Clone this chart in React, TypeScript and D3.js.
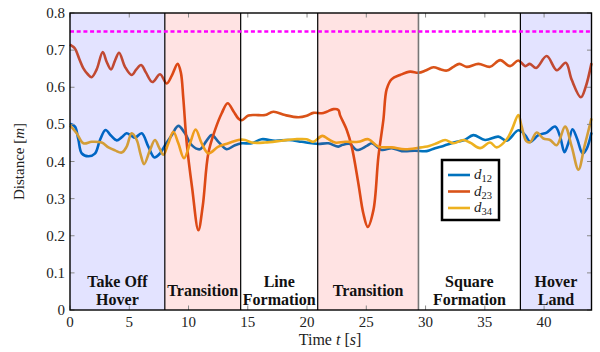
import React from "react";
import * as d3 from "d3";

// Inter-drone distances over the flight, sampled in seconds
const t12 = [0, 0.42, 0.7, 0.99, 1.55, 2.1, 2.53, 3.0, 3.45, 3.94, 4.35, 4.78, 5.15, 5.49, 6.05, 6.61, 7.12, 7.6, 8.02, 8.58, 9.14, 9.7, 10.27, 10.97, 11.5, 11.96, 12.52, 13.22, 13.92, 14.49, 15.33, 16.17, 17.3, 18.42, 19.55, 20.4, 20.95, 21.8, 22.64, 23.0, 23.63, 24.19, 25.04, 25.46, 26.3, 27.15, 27.99, 29.1, 30.1, 30.8, 31.5, 32.63, 33.3, 34.03, 35.02, 36.14, 36.85, 37.83, 38.4, 38.82, 39.52, 40.22, 40.93, 41.35, 41.72, 42.05, 42.4, 42.8, 43.25, 43.6, 44];
const d12 = [0.502, 0.494, 0.46, 0.422, 0.414, 0.421, 0.458, 0.485, 0.47, 0.457, 0.465, 0.476, 0.47, 0.464, 0.476, 0.44, 0.411, 0.422, 0.444, 0.471, 0.496, 0.476, 0.444, 0.433, 0.455, 0.471, 0.453, 0.433, 0.444, 0.449, 0.449, 0.46, 0.456, 0.458, 0.453, 0.449, 0.447, 0.449, 0.44, 0.445, 0.447, 0.431, 0.442, 0.449, 0.431, 0.436, 0.428, 0.429, 0.428, 0.436, 0.442, 0.453, 0.458, 0.471, 0.458, 0.467, 0.456, 0.484, 0.471, 0.453, 0.471, 0.478, 0.494, 0.467, 0.425, 0.45, 0.487, 0.46, 0.422, 0.435, 0.478];

const t23 = [0, 0.4, 0.8, 1.13, 1.5, 1.83, 2.25, 2.76, 3.1, 3.46, 3.8, 4.14, 4.64, 5.2, 5.6, 6.0, 6.4, 6.95, 7.6, 8.16, 8.6, 9.08, 9.35, 9.56, 9.85, 10.3, 10.83, 11.2, 11.67, 12.24, 12.8, 13.3, 13.8, 14.2, 14.5, 15.05, 15.9, 16.45, 17.16, 18.14, 19.27, 19.97, 20.53, 21.24, 21.66, 22.22, 22.64, 22.78, 23.35, 23.77, 24.33, 24.75, 25.12, 25.6, 26.02, 26.44, 26.72, 27.15, 27.85, 28.7, 29.4, 30.0, 30.66, 31.3, 31.8, 32.35, 32.85, 33.47, 34.46, 35.44, 36.29, 37.13, 37.83, 38.4, 38.8, 39.33, 40.22, 41.07, 41.83, 42.33, 43.1, 43.5, 44];
const d23 = [0.715, 0.705, 0.675, 0.651, 0.635, 0.627, 0.648, 0.695, 0.668, 0.648, 0.672, 0.693, 0.655, 0.633, 0.648, 0.66, 0.64, 0.614, 0.635, 0.61, 0.632, 0.663, 0.64, 0.57, 0.449, 0.33, 0.215, 0.28, 0.422, 0.485, 0.53, 0.557, 0.535, 0.516, 0.511, 0.524, 0.525, 0.525, 0.534, 0.525, 0.519, 0.523, 0.531, 0.53, 0.534, 0.541, 0.539, 0.525, 0.485, 0.44, 0.341, 0.26, 0.224, 0.269, 0.413, 0.512, 0.595, 0.622, 0.633, 0.642, 0.639, 0.645, 0.654, 0.648, 0.645, 0.655, 0.663, 0.655, 0.663, 0.655, 0.673, 0.657, 0.672, 0.657, 0.663, 0.652, 0.684, 0.646, 0.666, 0.62, 0.573, 0.6, 0.665];

const t34 = [0, 0.56, 1.13, 1.83, 2.67, 3.24, 3.8, 4.36, 4.78, 5.2, 5.63, 5.95, 6.25, 6.75, 7.17, 7.54, 7.88, 8.3, 8.72, 9.14, 9.62, 10.13, 10.6, 11.11, 11.67, 12.52, 13.36, 14.2, 14.77, 15.33, 16.45, 17.86, 18.99, 19.97, 20.53, 21.29, 21.8, 22.36, 23.21, 24.33, 25.17, 26.02, 27.15, 28.27, 29.4, 30.3, 30.94, 31.65, 32.35, 33.19, 33.8, 34.6, 35.44, 36.0, 36.85, 37.27, 37.83, 38.1, 38.5, 38.82, 39.38, 39.94, 40.5, 41.07, 41.77, 42.33, 42.9, 43.4, 44];
const d34 = [0.497, 0.476, 0.449, 0.453, 0.451, 0.438, 0.43, 0.424, 0.44, 0.476, 0.458, 0.42, 0.393, 0.431, 0.458, 0.436, 0.418, 0.449, 0.48, 0.449, 0.409, 0.449, 0.486, 0.449, 0.422, 0.44, 0.449, 0.458, 0.458, 0.451, 0.451, 0.456, 0.46, 0.46, 0.453, 0.469, 0.46, 0.451, 0.453, 0.453, 0.46, 0.44, 0.438, 0.433, 0.437, 0.442, 0.449, 0.458, 0.449, 0.458, 0.45, 0.436, 0.451, 0.438, 0.46, 0.485, 0.525, 0.495, 0.455, 0.452, 0.478, 0.462, 0.458, 0.444, 0.494, 0.44, 0.378, 0.44, 0.516];

// Flight phases
const phaseBounds = [0, 8, 14.4, 20.9, 29.4, 38, 44];
const phaseKinds = ["hover", "transition", "formation", "transition", "formation", "hover"];
const phaseLabels = [["Take Off", "Hover"], ["Transition"], ["Line", "Formation"], ["Transition"], ["Square", "Formation"], ["Hover", "Land"]];

const safetyLimit = 0.75;
const xTicks = [0, 5, 10, 15, 20, 25, 30, 35, 40];
const yTicks = [0, 0.1, 0.2, 0.3, 0.4, 0.5, 0.6, 0.7, 0.8];
const seriesNames = ["12", "23", "34"];

const colors = ["#0072BD", "#D95319", "#EDB120"];
const phaseFill: Record<string, string> = {
  hover: "rgba(0,0,255,0.11)",
  transition: "rgba(255,0,0,0.11)",
  formation: "none",
};

const W = 600;
const H = 352;
const serif = "'Liberation Serif', 'Times New Roman', serif";

export default function App() {
  const x = d3.scaleLinear().domain([0, 44]).range([70, 591.5]);
  const y = d3.scaleLinear().domain([0, 0.8]).range([310, 13]);
  const [x0, x1] = x.range();
  const [y0, y1] = y.range();

  const line = d3
    .line<[number, number]>()
    .x((d) => x(d[0]))
    .y((d) => y(d[1]))
    .curve(d3.curveCatmullRom.alpha(0.5));

  const series = [
    { t: t12, v: d12 },
    { t: t23, v: d23 },
    { t: t34, v: d34 },
  ];

  return (
    <svg
      width={W}
      height={H}
      style={{ position: "absolute", left: 0, top: 0, background: "#fff" }}
      fontFamily={serif}
    >
      {/* distance curves */}
      {series.map((s, i) => (
        <path
          key={i}
          d={line(s.t.map((t, k) => [t, s.v[k]] as [number, number])) || ""}
          fill="none"
          stroke={colors[i]}
          strokeWidth={2.6}
          strokeLinejoin="round"
        />
      ))}

      {/* phase shading */}
      {phaseKinds.map((k, i) => (
        <rect
          key={i}
          x={x(phaseBounds[i])}
          y={y1}
          width={x(phaseBounds[i + 1]) - x(phaseBounds[i])}
          height={y0 - y1}
          fill={phaseFill[k]}
        />
      ))}
      {phaseBounds.slice(1, -1).map((b, i) => (
        <line
          key={i}
          x1={x(b)}
          x2={x(b)}
          y1={y1}
          y2={y0}
          stroke={b === 29.4 ? "#777" : "#000"}
          strokeWidth={b === 29.4 ? 1.6 : 1.2}
        />
      ))}

      {/* safety distance */}
      <line
        x1={x0}
        x2={x1}
        y1={y(safetyLimit)}
        y2={y(safetyLimit)}
        stroke="#ff00ff"
        strokeWidth={2.4}
        strokeDasharray="4 2.7"
      />

      {/* phase labels */}
      {phaseLabels.map((lines, i) => {
        const cx = x((phaseBounds[i] + phaseBounds[i + 1]) / 2);
        const bases = lines.length === 2 ? [287, 305] : [296];
        return lines.map((txt, j) => (
          <text
            key={`${i}-${j}`}
            x={cx}
            y={bases[j]}
            textAnchor="middle"
            fontWeight="bold"
            fontSize={16}
            fill="#111"
          >
            {txt}
          </text>
        ));
      })}

      {/* ticks */}
      {xTicks.map((t) => (
        <g key={`xt${t}`} stroke="#888" strokeWidth={1}>
          <line x1={x(t)} x2={x(t)} y1={y0} y2={y0 - 4.5} />
          <line x1={x(t)} x2={x(t)} y1={y1} y2={y1 + 4.5} />
        </g>
      ))}
      {yTicks.map((t) => (
        <g key={`yt${t}`} stroke="#888" strokeWidth={1}>
          <line x1={x0} x2={x0 + 4.5} y1={y(t)} y2={y(t)} />
          <line x1={x1} x2={x1 - 4.5} y1={y(t)} y2={y(t)} />
        </g>
      ))}

      {/* frame */}
      <rect x={x0} y={y1} width={x1 - x0} height={y0 - y1} fill="none" stroke="#000" strokeWidth={1.4} />

      {/* tick labels */}
      {xTicks.map((t) => (
        <text key={`xl${t}`} x={x(t)} y={327} textAnchor="middle" fontSize={15} fill="#222">
          {t}
        </text>
      ))}
      {yTicks.map((t) => (
        <text key={`yl${t}`} x={65} y={y(t) + 5} textAnchor="end" fontSize={15} fill="#222">
          {t === 0 ? "0" : d3.format(".1f")(t)}
        </text>
      ))}

      {/* axis titles */}
      <text x={330} y={345} textAnchor="middle" fontSize={16} fill="#222">
        Time <tspan fontStyle="italic">t</tspan> [<tspan fontStyle="italic">s</tspan>]
      </text>
      <text
        transform={`translate(24,${(y0 + y1) / 2}) rotate(-90)`}
        textAnchor="middle"
        fontSize={15}
        fill="#222"
      >
        Distance [<tspan fontStyle="italic">m</tspan>]
      </text>

      {/* legend */}
      <rect x={442} y={160} width={57} height={60} fill="#fff" stroke="#000" strokeWidth={2.5} />
      {seriesNames.map((n, i) => {
        const ly = 175 + i * 16.5;
        return (
          <g key={n}>
            <line x1={448} x2={470} y1={ly} y2={ly} stroke={colors[i]} strokeWidth={2.6} />
            <text x={474} y={ly + 4} fontSize={15} fill="#222">
              <tspan fontStyle="italic">d</tspan>
              <tspan fontSize={10.5} dy={3}>{n}</tspan>
            </text>
          </g>
        );
      })}
    </svg>
  );
}
